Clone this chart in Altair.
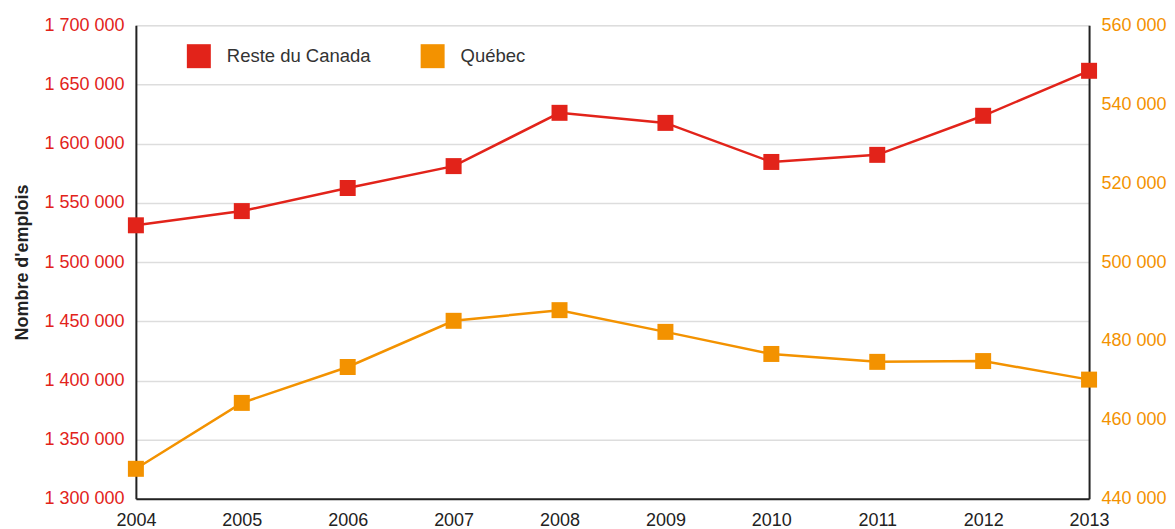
import altair as alt
import pandas as pd

years = [2004, 2005, 2006, 2007, 2008, 2009, 2010, 2011, 2012, 2013]
reste_canada = [1531000, 1543000, 1562500, 1581000, 1626000, 1617500, 1584500, 1590500, 1623500, 1661500]
quebec = [447600, 464300, 473400, 485100, 487800, 482300, 476700, 474700, 474900, 470200]
series_names = ["Reste du Canada", "Québec"]
series_colors = ["#E2231A", "#F39200"]
left_ticks = [1300000, 1350000, 1400000, 1450000, 1500000, 1550000, 1600000, 1650000, 1700000]
right_ticks = [440000, 460000, 480000, 500000, 520000, 540000, 560000]

df_rc = pd.DataFrame({"annee": years, "valeur": reste_canada, "serie": series_names[0]})
df_qc = pd.DataFrame({"annee": years, "valeur": quebec, "serie": series_names[1]})

FONT = "Liberation Sans"
label_expr = "replace(format(datum.value, ','), regexp(',', 'g'), ' ')"

color = alt.Color(
    "serie:N",
    scale=alt.Scale(domain=series_names, range=series_colors),
    legend=alt.Legend(
        title=None,
        orient="none",
        legendX=51,
        legendY=19,
        direction="horizontal",
        symbolType="square",
        symbolSize=576,
        symbolStrokeWidth=0,
        symbolOpacity=1,
        labelFontSize=18.5,
        labelFont=FONT,
        labelColor="#333333",
        labelOffset=16,
        columnPadding=50,
    ),
)

x = alt.X(
    "annee:Q",
    scale=alt.Scale(domain=[2004, 2013], nice=False),
    axis=alt.Axis(
        title=None,
        values=years,
        format="d",
        labelFlush=False,
        grid=False,
        ticks=False,
        labelFontSize=18,
        labelFont=FONT,
        labelColor="#222222",
        labelPadding=13,
        domainColor="#222222",
        domainWidth=2,
    ),
)

point_def = alt.OverlayMarkDef(shape="square", size=256, filled=True, opacity=1)

left = alt.Chart(df_rc).mark_line(strokeWidth=2.5, point=point_def).encode(
    x=x,
    y=alt.Y(
        "valeur:Q",
        scale=alt.Scale(domain=[1300000, 1700000], nice=False, zero=False),
        axis=alt.Axis(
            title="Nombre d'emplois",
            titleFont=FONT,
            titleFontSize=18,
            titleFontWeight="bold",
            titleColor="#222222",
            titlePadding=12,
            values=left_ticks,
            labelExpr=label_expr,
            labelFontSize=18,
            labelFont=FONT,
            labelColor="#E2231A",
            labelPadding=12,
            ticks=False,
            grid=True,
            gridColor="#dddddd",
            gridWidth=1.5,
            domainColor="#222222",
            domainWidth=2,
        ),
    ),
    color=color,
)

right = alt.Chart(df_qc).mark_line(strokeWidth=2.5, point=point_def).encode(
    x=x,
    y=alt.Y(
        "valeur:Q",
        scale=alt.Scale(domain=[440000, 560000], nice=False, zero=False),
        axis=alt.Axis(
            title=None,
            orient="right",
            values=right_ticks,
            labelExpr=label_expr,
            labelFontSize=18,
            labelFont=FONT,
            labelColor="#F39200",
            labelPadding=12,
            ticks=False,
            grid=False,
            domainColor="#222222",
            domainWidth=2,
        ),
    ),
    color=color,
)

chart = (
    alt.layer(left, right)
    .resolve_scale(y="independent")
    .properties(width=954, height=474, padding={"left": 5, "top": 8, "right": 0, "bottom": 0})
    .configure_view(stroke=None)
    .configure(background="white")
)

chart.save("out.html", embed_options={"renderer": "svg", "actions": False})
